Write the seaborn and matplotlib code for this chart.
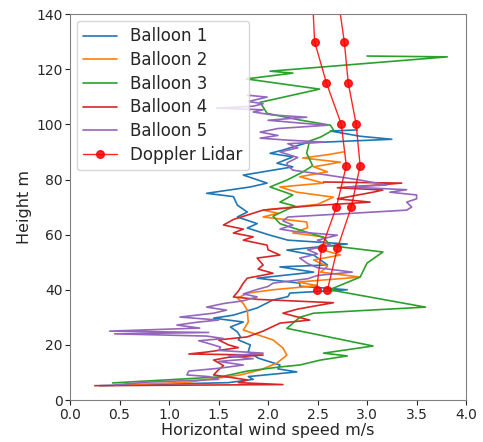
import numpy as np
import pandas as pd
import matplotlib
matplotlib.use("Agg")
import matplotlib.pyplot as plt
import seaborn as sns

# Ballongprofiler: höjd (m) och horisontell vindhastighet (m/s)
b1_h = [5.2, 6.3, 7.5, 8.5, 10.2, 11.3, 12.7, 15.2, 17.5, 20, 21.8, 23, 24.7, 26.5, 28.3, 29.7,
        30.8, 33.4, 36.3, 37.5, 38.8, 40, 41.3, 42.4, 44.2, 46.4, 48.3, 49, 52.6, 54.4, 56.6, 58,
        59.8, 62.4, 64, 66.4, 68.2, 70.7, 73.8, 75, 77.3, 78.7, 81.6, 84.6, 85.9, 88.2, 89.5,
        90.7, 93.3, 94.6, 95.7, 97.6, 98]
b1_v = [0.3, 1.6, 1.85, 1.8, 2.29, 2.1, 2.12, 1.9, 1.8, 1.82, 1.7, 1.72, 1.69, 1.62, 1.75, 1.45,
        1.65, 1.89, 2.05, 2.2, 2.22, 2.8, 2.32, 2.32, 1.89, 2.46, 2.12, 2.6, 2.46, 2.19, 2.8, 2.2,
        2.02, 1.79, 1.89, 1.69, 1.79, 1.69, 1.65, 1.38, 1.82, 1.99, 1.75, 2.25, 2.09, 2.25, 2.02,
        2.15, 2.39, 3.25, 2.93, 2.63, 2.9]

b2_h = [5.5, 6.5, 8.0, 9.1, 10.9, 13.4, 16.3, 18.9, 21.8, 25.4, 28.3, 32.6, 35, 37, 38.8, 40,
        41.5, 42.8, 44.6, 46.4, 48.5, 50.8, 52.6, 55, 57, 59.2, 60.6, 62.5, 64.6, 66.4, 67.8, 68.9,
        71, 73.6, 75.4, 77.3, 78.7, 81, 82.8, 84.6, 86.3, 87.8, 89, 90]
b2_v = [0.6, 1.2, 1.5, 1.72, 1.92, 2.09, 2.19, 2.15, 2.05, 1.75, 1.8, 1.79, 1.75, 1.69, 1.8, 2.05,
        2.5, 2.3, 2.93, 2.53, 2.6, 2.46, 2.73, 2.5, 2.6, 2.56, 2.25, 2.4, 2.39, 1.95, 2.1, 1.95,
        2.5, 2.66, 2.29, 2.12, 2.56, 2.32, 2.6, 2.46, 2.73, 2.35, 2.6, 2.76]

b3_h = [6.2, 8.4, 10.5, 12, 12.7, 14.5, 16, 17, 19.6, 21.8, 26, 30, 31.5, 33.7, 40, 44.6, 49.7,
        53.7, 56, 59, 62.8, 64, 66.7, 70.4, 71.8, 74.4, 77.3, 79.8, 82.7, 85, 89.6, 94, 95.4, 98,
        99.7, 101.6, 104, 108, 112.8, 116.5, 118.6, 119.3, 124.5, 124.8]
b3_v = [0.43, 1.52, 1.79, 2.12, 2.32, 2.53, 2.8, 2.56, 3.06, 2.76, 2.19, 2.32, 2.46, 3.59, 2.62,
        2.93, 3.0, 3.16, 2.63, 2.56, 2.22, 2.12, 2.05, 2.27, 2.12, 2.25, 2.02, 2.19, 2.35, 2.45,
        2.39, 2.42, 2.53, 2.66, 2.63, 2.32, 1.99, 1.92, 2.52, 1.78, 2.25, 2.02, 3.81, 3.0]

b4_h = [5.2, 5.6, 6.3, 7.3, 9.1, 11, 12.5, 14.5, 15.5, 16.3, 16.7, 17.4, 19, 20, 21.8, 22.9, 25,
        27.9, 29, 31.5, 33, 35.3, 36.5, 37.4, 39.5, 42.4, 44.2, 46, 47.5, 49, 51.5, 52.6, 54.5,
        56.2, 58, 59.2, 60.6, 62, 63.5, 65.5, 67.1, 68.9, 70.5, 71.8, 73, 75.4, 76.2, 77, 78,
        78.7, 79.1]
b4_v = [0.25, 2.15, 1.7, 1.79, 1.45, 1.5, 1.55, 1.45, 1.6, 1.95, 1.2, 1.38, 1.7, 1.6, 1.5, 1.79,
        1.95, 2.12, 2.42, 2.15, 2.3, 2.66, 1.9, 1.65, 1.7, 1.75, 1.79, 2.05, 1.9, 1.95, 1.89,
        2.12, 2.0, 1.99, 1.75, 1.85, 1.65, 1.75, 1.55, 1.65, 1.79, 1.95, 2.45, 3.03, 2.7, 3.06,
        3.16, 2.7, 3.1, 3.35, 2.56]

b5_h = [5.5, 6.5, 7.5, 8.5, 9.1, 10.5, 11.5, 12.7, 14, 15, 16, 17, 18, 19.2, 20.5, 21.5, 22.3,
        23.2, 24, 24.5, 25, 26.1, 27.2, 28.3, 29, 30.1, 31.5, 32.6, 33.7, 35, 36, 37.4, 38.5, 40,
        41.2, 42.4, 44, 45.2, 46.4, 48, 49.5, 51.5, 53, 54.5, 56.2, 58, 59.8, 61, 62, 63.5, 65,
        66.4, 68.9, 70, 71.8, 73, 74.4, 75.4, 76.3, 77.3, 78, 79.8, 81.6, 83.4, 85, 86, 88, 90,
        91.5, 93, 93.6, 94.3, 95, 96, 97.2, 98.5, 99.7, 100.5, 101.5, 102.6, 103.4, 104.5, 105.3,
        105.9, 106.6, 107.5, 108.3, 109.9, 110.6]
b5_v = [0.45, 0.8, 1.5, 1.4, 1.18, 1.2, 1.5, 1.75, 1.5, 1.85, 1.6, 1.95, 1.5, 1.52, 1.4, 1.3,
        1.55, 1.38, 0.45, 1.4, 0.4, 1.31, 1.08, 1.3, 1.5, 1.11, 1.45, 1.58, 1.38, 1.55, 1.75, 1.89,
        1.75, 1.88, 2.0, 2.05, 2.4, 2.5, 2.85, 2.5, 2.4, 2.32, 2.5, 2.4, 2.63, 2.5, 2.7, 2.3, 2.12,
        2.25, 2.15, 2.2, 3.4, 3.45, 3.4, 3.5, 3.5, 3.23, 3.4, 2.8, 3.2, 2.93, 2.6, 2.25, 2.2, 2.19,
        2.3, 2.12, 2.3, 2.2, 2.56, 2.19, 1.92, 2.1, 1.92, 2.1, 2.6, 2.32, 2.0, 2.39, 2.05, 1.85,
        1.95, 1.48, 1.85, 1.95, 1.8, 1.99, 1.79]

# Doppler-lidar: två profiler
lidar_h = [40, 55, 70, 85, 100, 115, 130, 145]
lidar_a = [2.49, 2.54, 2.69, 2.79, 2.74, 2.59, 2.47, 2.45]
lidar_b = [2.60, 2.70, 2.84, 2.93, 2.89, 2.81, 2.77, 2.71]

balloons = [("Balloon 1", b1_h, b1_v), ("Balloon 2", b2_h, b2_v), ("Balloon 3", b3_h, b3_v),
            ("Balloon 4", b4_h, b4_v), ("Balloon 5", b5_h, b5_v)]
frames = [pd.DataFrame({"height": h, "speed": v, "balloon": name}) for name, h, v in balloons]
df = pd.concat(frames, ignore_index=True)

sns.set_style("ticks", {"axes.edgecolor": "0.5", "xtick.color": "0.15", "ytick.color": "0.15"})
plt.rcParams["font.family"] = ["DejaVu Sans"]

fig = plt.figure(figsize=(4.83, 4.42), dpi=100)
ax = fig.add_axes([0.145, 0.095, 0.82, 0.873])

sns.lineplot(data=df, x="speed", y="height", hue="balloon", palette="tab10",
             sort=False, estimator=None, linewidth=1.2, ax=ax)
ax.plot(lidar_a, lidar_h, color="red", marker="o", markersize=5.5, linewidth=1,
        alpha=0.85, label="Doppler Lidar")
ax.plot(lidar_b, lidar_h, color="red", marker="o", markersize=5.5, linewidth=1, alpha=0.85)

ax.set_xlim(0, 4)
ax.set_ylim(0, 140)
ax.set_xticks(np.arange(0, 4.01, 0.5))
ax.set_yticks(np.arange(0, 141, 20))
ax.tick_params(labelsize=10, colors="0.15", pad=2)
ax.set_xlabel("Horizontal wind speed m/s", fontsize=11.5, color="0.15", labelpad=1)
ax.set_ylabel("Height m", fontsize=11.5, color="0.15", labelpad=3)
ax.legend(loc="upper left", fontsize=12, labelspacing=0.34, borderaxespad=0.4)

fig.savefig("out.png", dpi=100)
